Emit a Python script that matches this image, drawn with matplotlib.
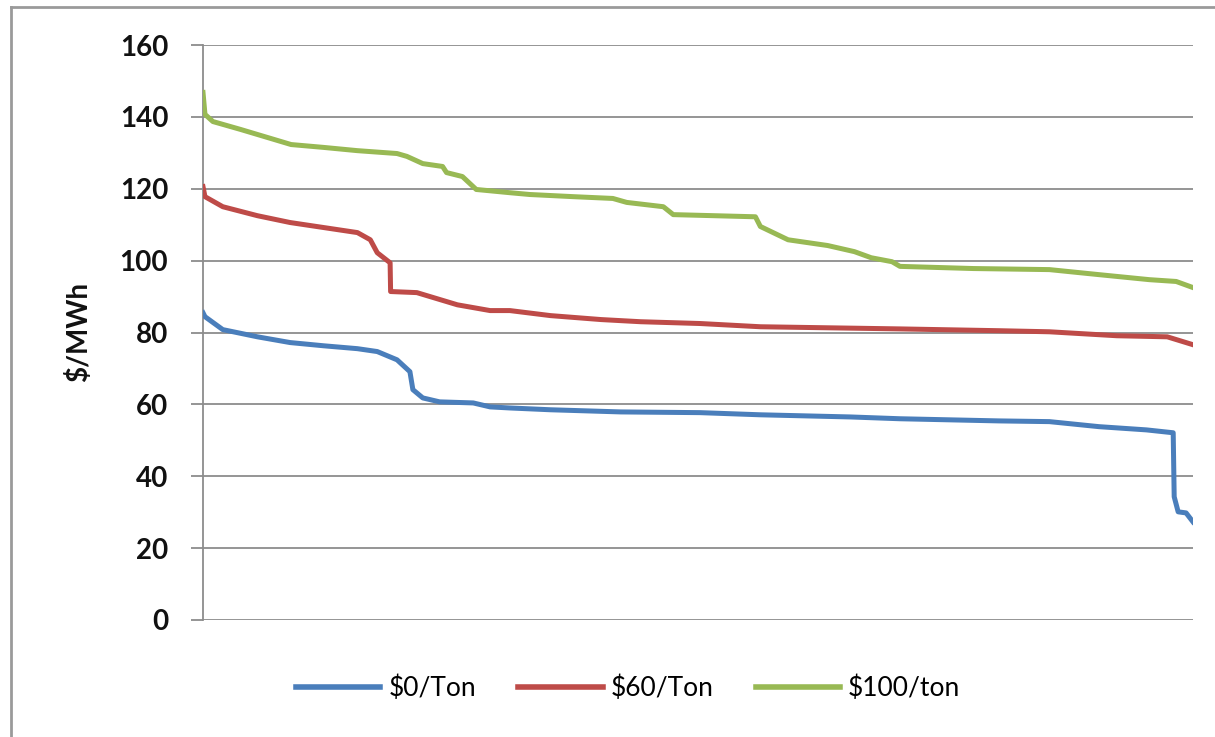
import matplotlib
matplotlib.use("Agg")
import matplotlib.pyplot as plt
from matplotlib.lines import Line2D

plt.rcParams['font.family'] = ['Lato', 'DejaVu Sans']

# share of hours (0-100, sorted by price) and price in $/MWh for each carbon price
x_0 = [0, 0.2, 2, 5.5, 8.8, 12.2, 15.6, 17.6, 19.6, 20.9, 21.2, 22.2, 23.9, 27.3, 29.0, 31.0,
       35.1, 42.2, 50.2, 56.3, 65.4, 70.4, 80.4, 85.5, 90.5, 95.3, 98.0, 98.1, 98.5, 99.3, 100]
y_0 = [85.5, 84.4, 80.8, 78.8, 77.2, 76.3, 75.5, 74.7, 72.4, 69.1, 64.1, 61.8, 60.7, 60.4, 59.3, 59.0,
       58.5, 57.9, 57.7, 57.1, 56.5, 56.0, 55.4, 55.2, 53.8, 52.9, 52.1, 34.3, 30.1, 29.8, 27.3]

x_60 = [0, 0.2, 2, 5.5, 8.8, 12.2, 15.6, 16.9, 17.6, 18.9, 18.95, 21.6, 25.7, 29.0, 31.0,
        35.1, 40.2, 44.2, 50.2, 56.3, 70.4, 80.4, 85.5, 92.3, 97.4, 100]
y_60 = [120.6, 117.8, 115.0, 112.5, 110.6, 109.2, 107.8, 105.8, 102.2, 99.4, 91.4, 91.1, 87.7, 86.1, 86.1,
        84.7, 83.6, 83.0, 82.5, 81.6, 81.0, 80.5, 80.2, 79.1, 78.8, 76.6]

x_100 = [0, 0.2, 1.0, 3.8, 8.9, 12.2, 15.6, 19.6, 20.6, 22.2, 24.2, 24.6, 26.2, 27.6, 31.0,
         33.0, 37.4, 41.4, 42.8, 46.5, 47.5, 55.8, 56.3, 59.1, 63.1, 65.8, 67.5, 69.6, 70.4,
         77.8, 85.5, 90.5, 95.6, 98.3, 100]
y_100 = [146.8, 140.7, 138.7, 136.5, 132.3, 131.5, 130.6, 129.8, 129.0, 127.0, 126.2, 124.5, 123.4, 119.8, 118.9,
         118.4, 117.8, 117.3, 116.2, 115.0, 112.8, 112.2, 109.5, 105.8, 104.2, 102.5, 100.8, 99.7, 98.4,
         97.8, 97.5, 96.1, 94.7, 94.2, 92.5]

series = [
    (x_0, y_0, '$0/Ton', '#4a7ebb'),
    (x_60, y_60, '$60/Ton', '#be4b48'),
    (x_100, y_100, '$100/ton', '#98b954'),
]
yticks = [0, 20, 40, 60, 80, 100, 120, 140, 160]

fig = plt.figure(figsize=(12.15, 7.37), dpi=100)
ax = fig.add_axes([203 / 1215, 1 - 620 / 737, 990 / 1215, 575 / 737])

for xs, ys, name, col in series:
    ax.plot(xs, ys, color=col, lw=3.6, label=name, solid_joinstyle='round', zorder=3)

ax.set_xlim(0, 100)
ax.set_ylim(0, 160)
ax.set_yticks(yticks)
ax.set_xticks([])
ax.grid(axis='y', color='#8c8c8c', lw=1.3, zorder=0)
for s in ['top', 'right', 'bottom']:
    ax.spines[s].set_visible(False)
ax.spines['left'].set_color('#8c8c8c')
ax.spines['left'].set_linewidth(1.3)
ax.tick_params(axis='y', length=9, width=1.3, color='#8c8c8c', pad=16,
               labelsize=20, labelcolor='#111111')
for t in ax.get_yticklabels():
    t.set_fontweight('bold')
ax.set_ylabel('$/MWh', fontsize=20, fontweight='bold', labelpad=20, color='#111111')

handles = [Line2D([], [], color=c, lw=4) for _, _, _, c in series]
fig.legend(handles, [n for _, _, n, _ in series], loc='center', ncol=3,
           bbox_to_anchor=(628 / 1215, 1 - 688 / 737), frameon=False,
           fontsize=19, handlelength=3.2, handletextpad=0.3, columnspacing=1.6)

# chart area frame, only the left and top edges are inside the picture
fig.add_artist(Line2D([11 / 1215, 11 / 1215], [0, 1 - 7 / 737], color='#9a9a9a', lw=2,
                      transform=fig.transFigure))
fig.add_artist(Line2D([11 / 1215, 1], [1 - 7 / 737, 1 - 7 / 737], color='#9a9a9a', lw=2,
                      transform=fig.transFigure))

fig.savefig('out.png', dpi=100, facecolor='white')
